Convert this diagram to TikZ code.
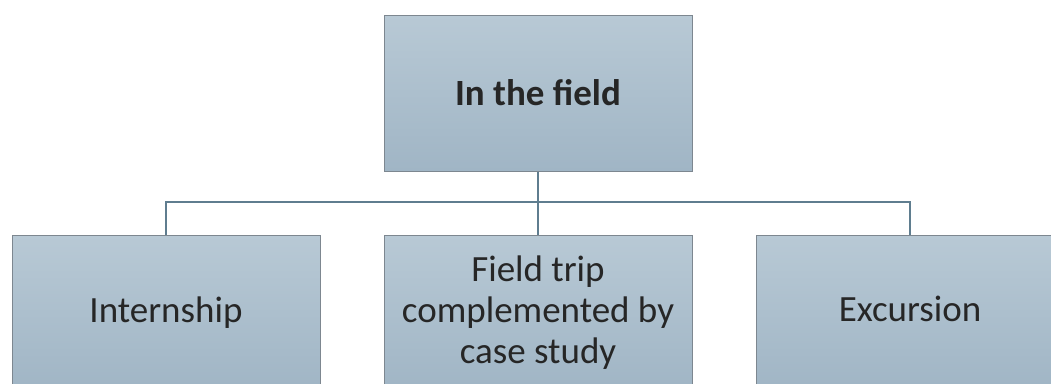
\documentclass[tikz,border=0pt]{standalone}
\usepackage{fontspec}
\setmainfont{Carlito}
\definecolor{boxtop}{HTML}{B8C9D5}
\definecolor{boxbot}{HTML}{A0B5C5}
\definecolor{boxline}{HTML}{7D8790}
\definecolor{linkline}{HTML}{5F7D8F}
\definecolor{boxtext}{HTML}{262626}
\tikzset{
  unit/.style={draw=boxline, line width=1pt, top color=boxtop, bottom color=boxbot,
    minimum width=308pt, minimum height=156pt, inner sep=0pt, align=center, text=boxtext,
    font=\fontsize{37}{41}\selectfont},
  link/.style={draw=linkline, line width=2pt},
}
\begin{document}
\begin{tikzpicture}[x=1pt,y=1pt]
  \useasboundingbox (0,0) rectangle (1051,-383);
  \clip (0,0) rectangle (1051,-383);
  % boxes
  \node[unit, font=\fontsize{37}{41}\selectfont\bfseries] (field) at (538,-93) {In the field};
  \node[unit] (intern) at (166,-313) {Internship};
  \node[unit] (trip) at (538,-313) {Field trip\\complemented by\\case study};
  \node[unit, text depth=8pt] (excur) at (910,-313) {Excursion};
  % links
  \coordinate (split) at (538,-202);
  \draw[link] (field.south) -- (split);
  \draw[link] (split) -| (intern.north);
  \draw[link] (split) -| (excur.north);
  \draw[link] (split) -- (trip.north);
\end{tikzpicture}
\end{document}
